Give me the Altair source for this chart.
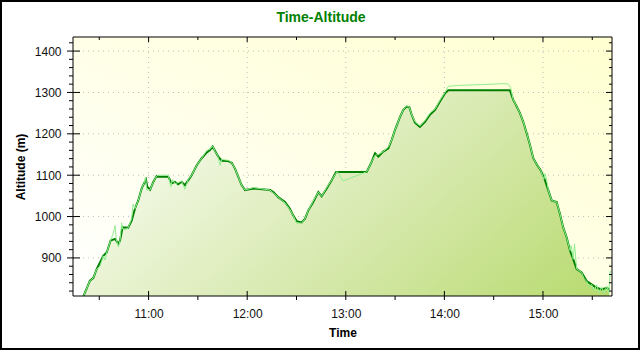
import altair as alt
import pandas as pd

# ---- data ----
dark_time = [
    "10:19:00", "10:20:18", "10:24:18", "10:26:24", "10:28:24", "10:32:24", "10:34:30", "10:36:54",
    "10:39:36", "10:41:36", "10:42:36", "10:44:12", "10:47:36", "10:49:42", "10:51:42",
    "10:53:42", "10:55:48", "10:57:12", "10:58:24", "10:59:12", "11:00:54", "11:02:54",
    "11:04:54", "11:05:54", "11:12:00", "11:14:00", "11:16:00", "11:18:00", "11:20:06",
    "11:22:06", "11:24:12", "11:26:12", "11:29:18", "11:32:18", "11:35:24", "11:37:24",
    "11:39:00", "11:40:24", "11:42:24", "11:44:30", "11:48:30", "11:50:36", "11:52:36",
    "11:54:36", "11:56:36", "11:58:42", "12:03:42", "12:13:54", "12:15:54", "12:18:54",
    "12:23:00", "12:26:00", "12:28:00", "12:30:06", "12:33:12", "12:35:12", "12:37:12",
    "12:40:12", "12:43:18", "12:45:18", "12:48:24", "12:51:24", "12:54:00", "12:56:30",
    "13:12:42", "13:15:42", "13:17:48", "13:19:48", "13:22:48", "13:25:54", "13:27:54",
    "13:29:54", "13:33:00", "13:35:00", "13:37:00", "13:38:42", "13:40:06", "13:42:06",
    "13:45:06", "13:48:12", "13:51:12", "13:54:18", "13:57:18", "14:00:24", "14:02:24",
    "14:39:54", "14:41:54", "14:44:00", "14:46:00", "14:48:00", "14:50:06", "14:52:06",
    "14:54:06", "14:56:30", "14:58:36", "15:01:12", "15:03:12", "15:05:18", "15:08:18",
    "15:10:18", "15:12:18", "15:14:24", "15:16:24", "15:18:24", "15:20:30", "15:23:30",
    "15:26:36", "15:29:36", "15:32:42", "15:35:42", "15:38:48", "15:40:24",
]
dark_alt = [
    800, 807, 845, 852, 873, 905, 913, 942,
    946, 934, 942, 974, 973, 990, 1019,
    1039, 1068, 1080, 1089, 1072, 1065, 1084,
    1098, 1096, 1096, 1080, 1084, 1078, 1084,
    1076, 1088, 1100, 1124, 1141, 1155, 1161,
    1169, 1159, 1145, 1135, 1134, 1130, 1116,
    1096, 1076, 1064, 1068, 1064, 1059, 1047,
    1035, 1019, 1003, 989, 986, 995, 1015,
    1035, 1059, 1049, 1068, 1088, 1107, 1108,
    1108, 1132, 1153, 1145, 1157, 1165, 1185,
    1209, 1241, 1258, 1266, 1264, 1246, 1227,
    1217, 1229, 1246, 1258, 1278, 1298, 1305,
    1305, 1282, 1266, 1250, 1229, 1201, 1173,
    1141, 1124, 1112, 1088, 1064, 1039, 1035,
    1007, 974, 950, 918, 897, 873, 865,
    844, 836, 828, 824, 828, 824,
]

light_time = [
    "10:19:00", "10:20:18", "10:24:18", "10:26:24", "10:28:24", "10:30:30", "10:32:24", "10:33:30",
    "10:34:30", "10:36:54", "10:38:30", "10:39:36", "10:40:18", "10:41:36", "10:42:36",
    "10:43:36", "10:44:12", "10:46:00", "10:47:36", "10:49:42", "10:50:30", "10:51:42",
    "10:53:42", "10:55:48", "10:57:12", "10:58:00", "10:58:24", "10:59:00", "11:00:54",
    "11:02:54", "11:04:54", "11:06:00", "11:12:00", "11:13:30", "11:14:30", "11:16:00",
    "11:18:00", "11:20:06", "11:22:06", "11:24:12", "11:26:12", "11:29:18", "11:32:18",
    "11:35:24", "11:37:24", "11:39:00", "11:40:24", "11:42:00", "11:43:30", "11:44:30",
    "11:48:30", "11:50:36", "11:52:36", "11:54:36", "11:56:36", "11:58:42", "12:03:42",
    "12:13:54", "12:15:54", "12:18:54", "12:23:00", "12:26:00", "12:28:00", "12:30:06",
    "12:33:12", "12:35:12", "12:37:12", "12:40:12", "12:43:18", "12:45:18", "12:48:24",
    "12:51:24", "12:54:00", "12:55:00", "12:58:18", "13:12:42", "13:15:42", "13:17:48",
    "13:19:48", "13:22:48", "13:25:54", "13:27:54", "13:29:54", "13:33:00", "13:35:00",
    "13:37:00", "13:38:42", "13:40:06", "13:42:06", "13:45:06", "13:48:12", "13:51:12",
    "13:54:18", "13:57:18", "14:00:24", "14:02:24", "14:09:18", "14:22:30", "14:34:36",
    "14:38:36", "14:40:18", "14:41:54", "14:44:00", "14:46:00", "14:48:00", "14:50:06",
    "14:52:06", "14:54:06", "14:56:30", "14:58:36", "15:00:30", "15:01:12", "15:02:18",
    "15:03:12", "15:05:18", "15:08:18", "15:10:18", "15:12:18", "15:14:24", "15:16:24",
    "15:17:12", "15:18:24", "15:19:12", "15:20:30", "15:23:30", "15:25:00", "15:26:36",
    "15:28:00", "15:29:36", "15:31:00", "15:32:42", "15:34:00", "15:35:42", "15:37:00",
    "15:38:48", "15:40:00", "15:41:00",
]
light_alt = [
    800, 807, 845, 852, 873, 880, 905, 895,
    913, 942, 960, 978, 945, 926, 942,
    985, 970, 968, 973, 995, 1030, 1019,
    1039, 1068, 1080, 1095, 1086, 1064, 1065,
    1084, 1098, 1100, 1100, 1072, 1090, 1080,
    1082, 1086, 1066, 1090, 1100, 1124, 1141,
    1160, 1163, 1170, 1158, 1148, 1124, 1138,
    1136, 1130, 1116, 1096, 1076, 1064, 1070,
    1064, 1057, 1047, 1033, 1017, 1003, 984,
    984, 995, 1015, 1038, 1059, 1049, 1070,
    1088, 1105, 1108, 1086, 1108, 1132, 1148,
    1150, 1157, 1168, 1185, 1209, 1241, 1258,
    1268, 1264, 1246, 1229, 1219, 1232, 1250,
    1260, 1281, 1300, 1315, 1317, 1319, 1321,
    1321, 1312, 1282, 1266, 1250, 1229, 1201,
    1173, 1141, 1124, 1112, 1090, 1104, 1088,
    1064, 1039, 1035, 1007, 974, 950, 918,
    930, 897, 934, 873, 865, 850, 844,
    830, 836, 820, 835, 816, 830, 814,
    832, 815, 869,
]

title_text = "Time-Altitude"
x_title = "Time"
y_title = "Altitude (m)"
x_major = ["11:00", "12:00", "13:00", "14:00", "15:00"]
x_minor = ["10:30", "11:30", "12:30", "13:30", "14:30", "15:30"]
y_major = [900, 1000, 1100, 1200, 1300, 1400]
y_minor = [v for v in range(820, 1432, 20) if v % 100 != 0]


def to_min(s):
    parts = [int(p) for p in s.split(":")]
    while len(parts) < 3:
        parts.append(0)
    return parts[0] * 60 + parts[1] + parts[2] / 60.0


dark = pd.DataFrame({"t": [to_min(s) for s in dark_time], "alt": dark_alt})
light = pd.DataFrame({"t": [to_min(s) for s in light_time], "alt": light_alt})
xmaj = pd.DataFrame({"t": [to_min(s) for s in x_major]})
xmin = pd.DataFrame({"t": [to_min(s) for s in x_minor]})
ymaj = pd.DataFrame({"alt": y_major})
ymin = pd.DataFrame({"alt": y_minor})
one = pd.DataFrame({"label": [title_text]})

W, H = 539, 259
PAD_L, PAD_T = 73, 37
xscale = alt.Scale(domain=[to_min("10:14"), to_min("15:42")], nice=False, zero=False)
yscale = alt.Scale(domain=[808, 1434], nice=False, zero=False)
FONT = "Liberation Sans"

xaxis = alt.Axis(values=[to_min(s) for s in x_major], title=x_title,
                 labelExpr="floor(datum.value/60) + ':' + (datum.value%60 < 10 ? '0' : '') + (datum.value%60)",
                 ticks=False, domain=False, grid=False, labelPadding=12,
                 labelFont=FONT, labelFontSize=12, labelColor="#111111",
                 titleFont=FONT, titleFontSize=12, titleFontWeight="bold",
                 titleColor="#000000", titlePadding=8)
yaxis = alt.Axis(values=y_major, title=y_title, format="d", ticks=False, domain=False,
                 grid=False, labelPadding=12, labelFont=FONT, labelFontSize=12,
                 labelColor="#111111", titleFont=FONT, titleFontSize=12,
                 titleFontWeight="bold", titleColor="#000000", titlePadding=7)

X = lambda: alt.X("t:Q", scale=xscale, axis=xaxis)
Y = lambda: alt.Y("alt:Q", scale=yscale, axis=yaxis)

bg = alt.Chart(one).mark_rect(
    color=alt.LinearGradient(
        gradient="linear", x1=0, y1=1, x2=1, y2=0,
        stops=[alt.GradientStop(color="#ffffff", offset=0),
               alt.GradientStop(color="#ffffd0", offset=1)],
    )
).encode(x=alt.value(0), x2=alt.value(W), y=alt.value(0), y2=alt.value(H))

grid_y = alt.Chart(ymaj).mark_rule(color="#bdbdbd", strokeDash=[1, 4], strokeWidth=1).encode(
    y=Y(), x=alt.value(0), x2=alt.value(W))
grid_x = alt.Chart(xmaj).mark_rule(color="#bdbdbd", strokeDash=[1, 4], strokeWidth=1).encode(
    x=X(), y=alt.value(0), y2=alt.value(H))

area = alt.Chart(dark).mark_area(
    clip=True,
    color=alt.LinearGradient(
        gradient="linear", x1=0, y1=0, x2=0.85, y2=1,
        stops=[alt.GradientStop(color="#ffffff", offset=0),
               alt.GradientStop(color="#d3e7a6", offset=0.45),
               alt.GradientStop(color="#9acd32", offset=1)],
    ),
).encode(x=X(), y=Y())

dark_line = alt.Chart(dark).mark_line(clip=True, color="#008000", strokeWidth=2).encode(x=X(), y=Y())
light_line = alt.Chart(light).mark_line(clip=True, color="#90ee90", strokeWidth=1).encode(x=X(), y=Y())


def yticks(df, a, b):
    return alt.Chart(df).mark_rule(color="black", strokeWidth=1).encode(
        y=Y(), x=alt.value(a), x2=alt.value(b))


def xticks(df, a, b):
    return alt.Chart(df).mark_rule(color="black", strokeWidth=1).encode(
        x=X(), y=alt.value(a), y2=alt.value(b))


ticks = [
    yticks(ymaj, -6, 7), yticks(ymin, -4, 0),
    yticks(ymaj, W - 6, W), yticks(ymin, W - 3, W),
    xticks(xmaj, H - 5, H + 4), xticks(xmin, H, H + 4),
    xticks(xmaj, 0, 5), xticks(xmin, 0, 3),
]

frame = alt.Chart(one).mark_rect(fillOpacity=0, stroke="black", strokeWidth=1).encode(
    x=alt.value(0), x2=alt.value(W), y=alt.value(0), y2=alt.value(H))
outer = alt.Chart(one).mark_rect(fillOpacity=0, stroke="black", strokeWidth=2).encode(
    x=alt.value(-PAD_L + 1), x2=alt.value(640 - PAD_L - 1),
    y=alt.value(-PAD_T + 1), y2=alt.value(350 - PAD_T - 1))

title = alt.Chart(one).mark_text(
    font=FONT, fontSize=14, fontWeight="bold", color="#008000", align="center", baseline="alphabetic"
).encode(text="label:N", x=alt.value(321 - PAD_L), y=alt.value(22 - PAD_T))

chart = alt.layer(bg, grid_y, grid_x, area, dark_line, light_line, *ticks, frame, outer, title).properties(
    width=W, height=H,
    autosize=alt.AutoSizeParams(type="none"),
    padding={"left": PAD_L, "top": PAD_T, "right": 640 - PAD_L - W, "bottom": 350 - PAD_T - H},
    background="white",
).configure_view(strokeWidth=0)

chart.save("out.html", embed_options={"renderer": "svg", "actions": False})
